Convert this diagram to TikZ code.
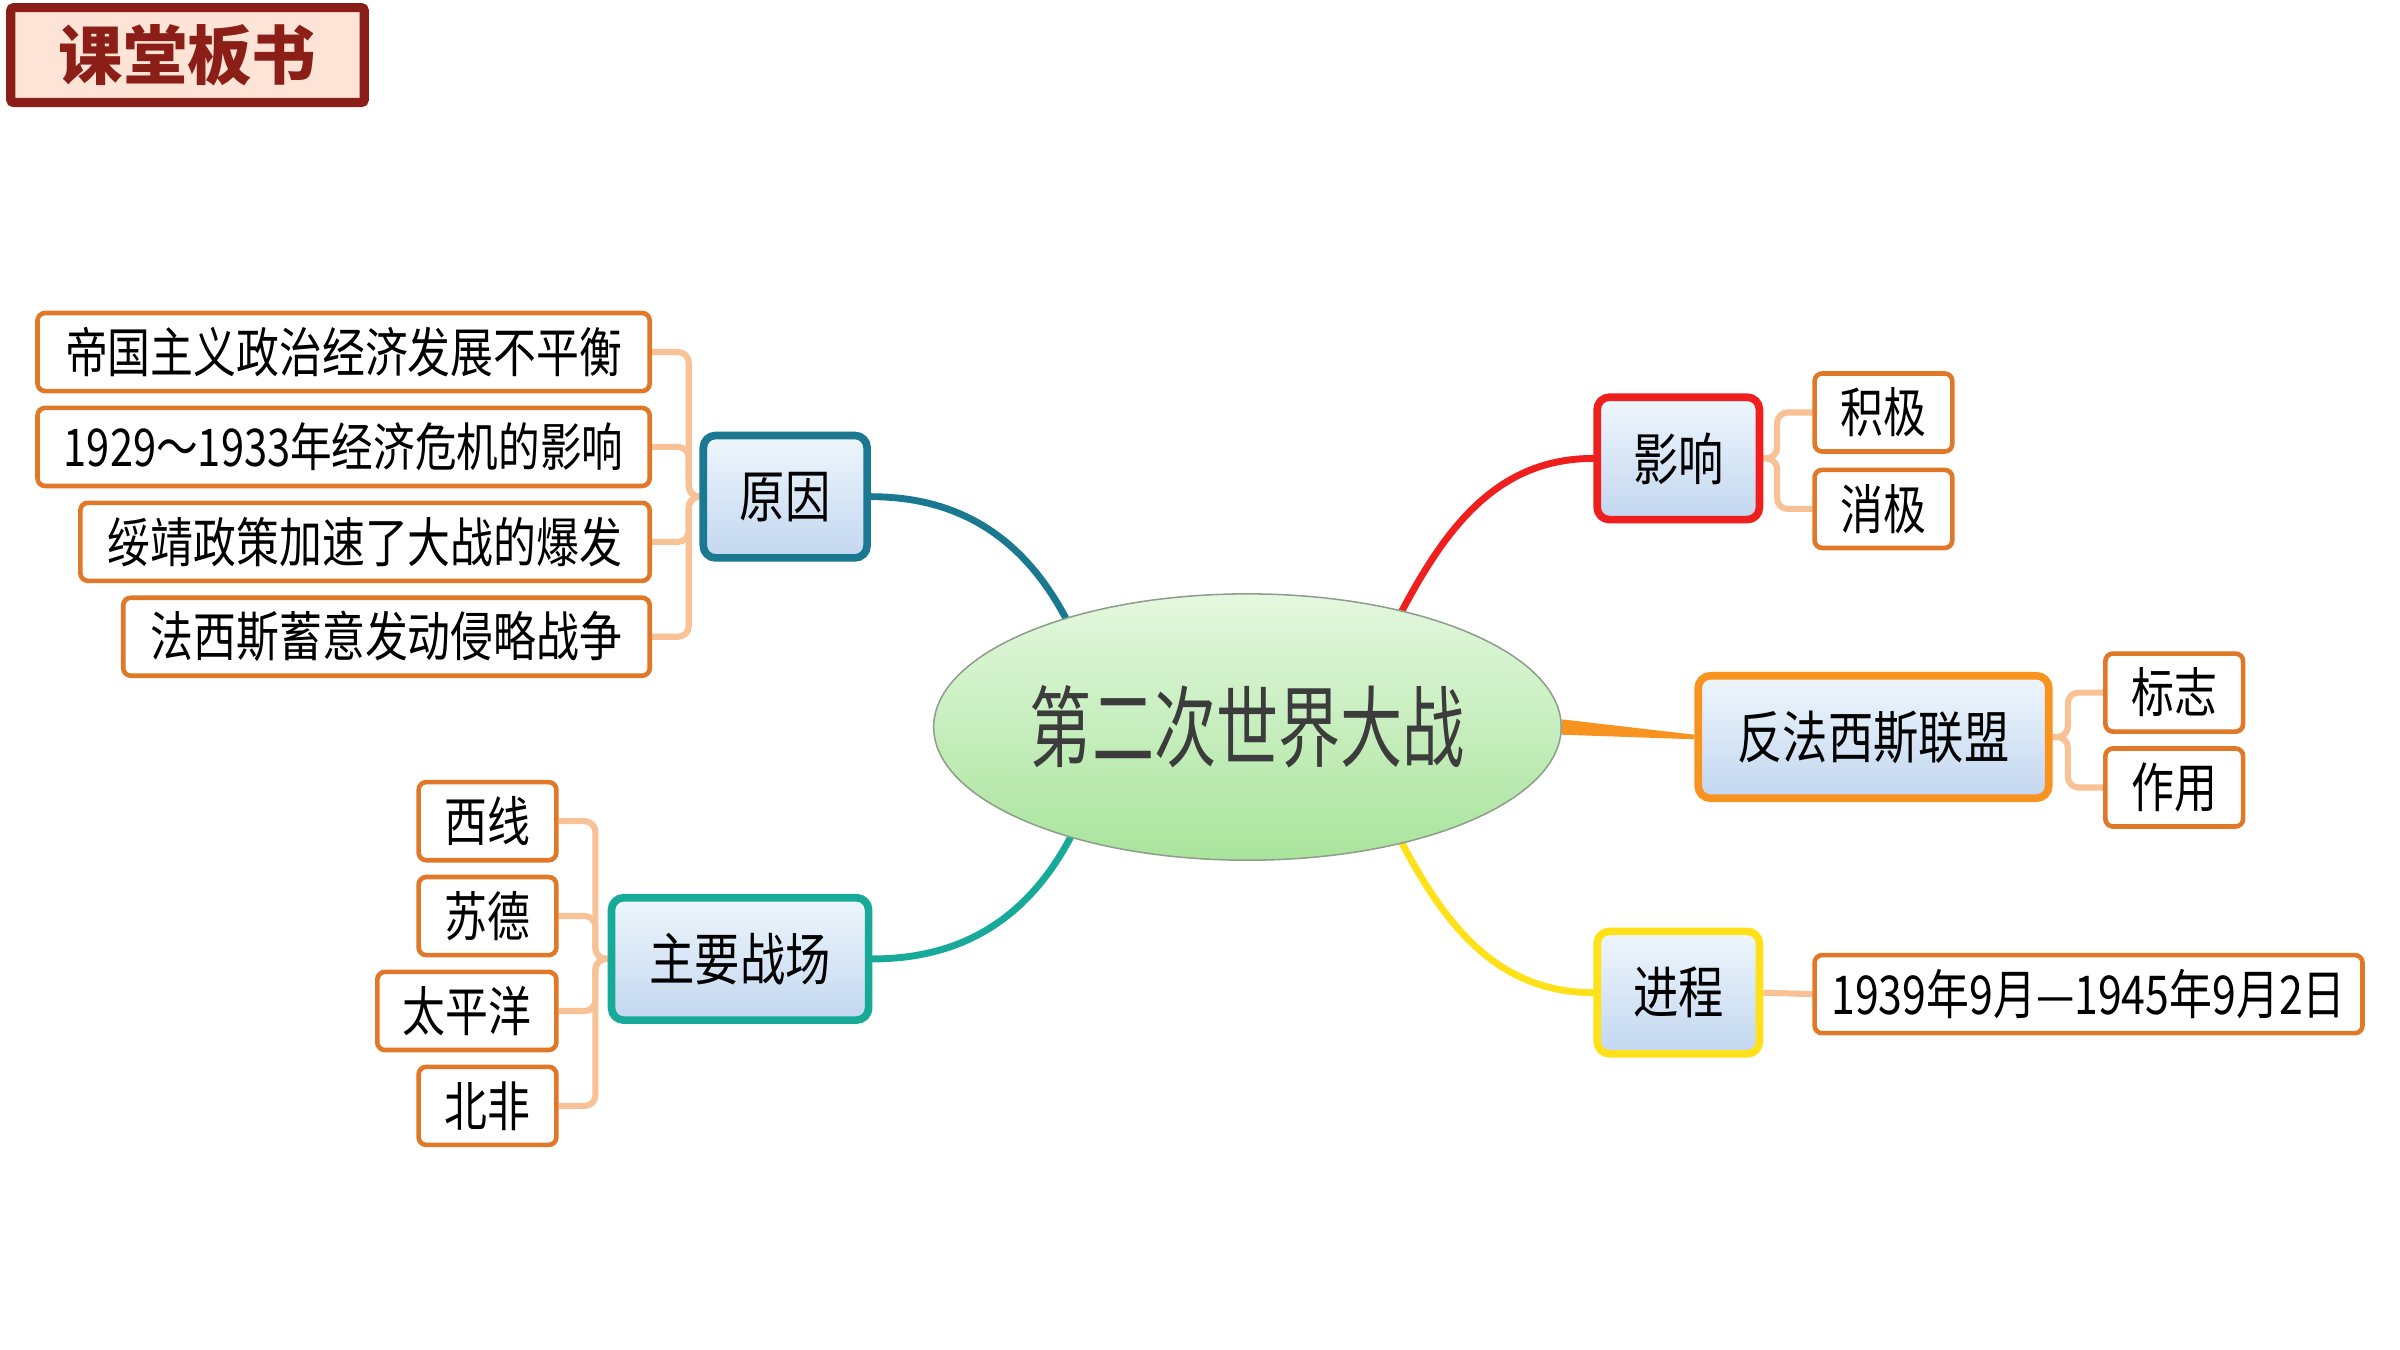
\documentclass[tikz,border=0pt]{standalone}
\usepackage{fontspec}
\usetikzlibrary{shapes.geometric,backgrounds}
\newfontfamily\cjk[FakeStretch=0.8]{Noto Sans CJK SC}
\newfontfamily\cjkc[FakeStretch=0.7]{Noto Sans CJK SC}
\newfontfamily\cjkt{Noto Sans CJK SC}
\definecolor{leafc}{HTML}{E07828}
\definecolor{brc}{HTML}{F9C196}
\definecolor{midtop}{HTML}{EEF6FC}
\definecolor{midbot}{HTML}{C3D7F0}
\definecolor{cyuan}{HTML}{1A7890}
\definecolor{czhan}{HTML}{18AA98}
\definecolor{cying}{HTML}{EE1F1C}
\definecolor{cfan}{HTML}{F7931E}
\definecolor{cjin}{HTML}{FFE11A}
\definecolor{titlec}{HTML}{8B1E16}
\definecolor{titlefill}{HTML}{FDE4D7}
\definecolor{ellitop}{HTML}{E4F8DF}
\definecolor{ellibot}{HTML}{A9E49C}
\definecolor{ellline}{HTML}{8E9E8A}
\definecolor{ctext}{HTML}{3C3C3C}
\tikzset{
  leaf/.style={draw=leafc, line width=3, fill=white, rounded corners=5, inner sep=0,
    minimum height=51, font=\cjk\fontsize{35}{40}\selectfont, text=black},
  mid/.style={line width=5, rounded corners=8, top color=midtop, bottom color=midbot,
    inner sep=0, minimum height=80, font=\cjk\fontsize{37}{42}\selectfont, text=black},
  br/.style={draw=brc, line width=4, rounded corners=7},
  conn/.style={line width=4.5, line cap=round}
}
\begin{document}
\begin{tikzpicture}[x=1pt,y=1pt]
\useasboundingbox (0,0) rectangle (1568,-882);
% title
\node[draw=titlec, line width=6, fill=titlefill, rounded corners=2, inner sep=0,
  minimum width=231, minimum height=62, text=titlec,
  font=\cjkt\bfseries\fontsize{42}{46}\selectfont] (title) at (122.5,-36) {课堂板书};
% centre
\node[ellipse, draw=ellline, line width=1, top color=ellitop, bottom color=ellibot,
  minimum width=410, minimum height=174, inner sep=0, text=ctext,
  font=\cjkc\fontsize{58}{62}\selectfont] (center) at (815,-475) {第二次世界大战};
% 原因
\node[mid, draw=cyuan, minimum width=107] (yuanyin) at (513,-324.5) {原因};
\node[leaf, minimum width=400] (L1) at (224.5,-230) {帝国主义政治经济发展不平衡};
\node[leaf, minimum width=400, font=\cjk\fontsize{34}{40}\selectfont] (L2) at (224.5,-292) {1929～1933年经济危机的影响};
\node[leaf, minimum width=372] (L3) at (238.5,-354) {绥靖政策加速了大战的爆发};
\node[leaf, minimum width=344] (L4) at (252.5,-416) {法西斯蓄意发动侵略战争};
% 主要战场
\node[mid, draw=czhan, minimum width=168] (zhuyao) at (483.5,-626.5) {主要战场};
\node[leaf, minimum width=90] (Z1) at (318.5,-536.5) {西线};
\node[leaf, minimum width=90] (Z2) at (318.5,-598.5) {苏德};
\node[leaf, minimum width=117] (Z3) at (305,-660.5) {太平洋};
\node[leaf, minimum width=90] (Z4) at (318.5,-722.5) {北非};
% 影响
\node[mid, draw=cying, minimum width=106] (yingxiang) at (1096.5,-299.5) {影响};
\node[leaf, minimum width=90] (Y1) at (1230.5,-269.5) {积极};
\node[leaf, minimum width=90] (Y2) at (1230.5,-332.5) {消极};
% 反法西斯联盟
\node[mid, draw=cfan, minimum width=229] (fan) at (1224,-481.5) {反法西斯联盟};
\node[leaf, minimum width=90] (F1) at (1420.5,-452.5) {标志};
\node[leaf, minimum width=90] (F2) at (1420.5,-514.5) {作用};
% 进程
\node[mid, draw=cjin, minimum width=106] (jincheng) at (1096.5,-648.5) {进程};
\node[leaf, minimum width=358] (J1) at (1364.5,-649.5) {1939年9月—1945年9月2日};
\begin{scope}[on background layer]
\fill[white] (0,0) rectangle (1568,-882);
% brackets
\foreach \n in {L1,L2,L3,L4}{\draw[br] (yuanyin.west) -- ++(-7,0) |- (\n.east);}
\foreach \n in {Z1,Z2,Z3,Z4}{\draw[br] (zhuyao.west) -- ++(-8,0) |- (\n.east);}
\foreach \n in {Y1,Y2}{\draw[br] (yingxiang.east) -- ++(9,0) |- (\n.west);}
\foreach \n in {F1,F2}{\draw[br] (fan.east) -- ++(10,0) |- (\n.west);}
\draw[br] (jincheng.east) -- (J1.west);
% main connectors
\draw[conn, draw=cyuan] (yuanyin.east) to[out=0, in=118] (center.149);
\draw[conn, draw=czhan] (zhuyao.east) to[out=0, in=-118] (center.212);
\draw[conn, draw=cying] (center.37) to[out=62, in=180] (yingxiang.west);
\draw[conn, draw=cjin] (center.-37) to[out=-62, in=180] (jincheng.west);
\fill[cfan] ([yshift=5]center.east) -- ([yshift=1.5]fan.west) -- ([yshift=-1.5]fan.west) -- ([yshift=-5]center.east) -- cycle;
\end{scope}
\end{tikzpicture}
\end{document}
